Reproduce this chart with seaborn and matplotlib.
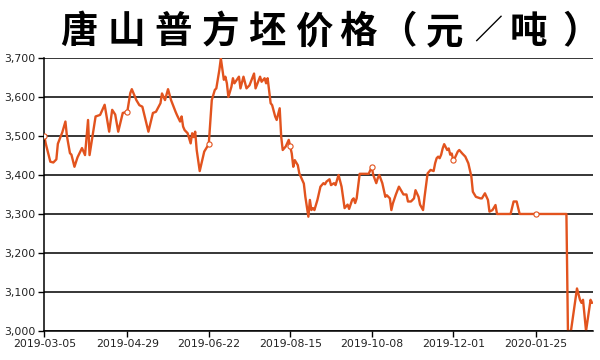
import numpy as np
import pandas as pd
import matplotlib
matplotlib.use("Agg")
import matplotlib.pyplot as plt
import matplotlib.dates as mdates
from matplotlib.ticker import FuncFormatter
import seaborn as sns

# ── Data ──────────────────────────────────────────────────────
start = pd.Timestamp("2019-03-05")
days = [0, 1, 4, 6, 8, 9, 12, 14, 15, 17, 18, 20, 22, 25, 27, 29, 30, 32, 34, 37,
        40, 43, 45, 47, 49, 52, 55, 57, 58, 61, 63, 65, 69, 72, 74, 77, 78, 80, 82, 84,
        87, 88, 90, 91, 92, 93, 95, 97, 98, 99, 100, 101, 103, 106, 109, 110, 111, 113, 114, 116,
        117, 119, 120, 121, 122, 124, 125, 126, 129, 130, 132, 134, 136, 139, 140, 143, 144, 146, 147, 148,
        150, 151, 153, 154, 156, 157, 158, 160, 162, 163, 164, 165, 166, 168, 169, 172, 173, 175, 176, 177,
        178, 179, 181, 183, 185, 186, 187, 189, 190, 192, 193, 195, 197, 199, 201, 202, 204, 205, 206, 207,
        209, 212, 215, 217, 218, 220, 221, 222, 224, 226, 227, 229, 230, 231, 233, 235, 237, 238, 240, 241,
        243, 245, 246, 248, 249, 251, 252, 254, 256, 258, 259, 260, 261, 262, 263, 264, 265, 267, 268, 269,
        270, 271, 272, 274, 275, 277, 279, 281, 283, 284, 286, 289, 290, 292, 294, 295, 297, 299, 300, 309,
        311, 313, 315, 326, 346, 347, 349, 353, 355, 356, 357, 359, 362, 363]
prices = [3500, 3480, 3434, 3432, 3440, 3480, 3510, 3537, 3500, 3456, 3452, 3421, 3445, 3469, 3451, 3541, 3451, 3500, 3550, 3554,
          3580, 3511, 3567, 3555, 3511, 3559, 3562, 3610, 3620, 3592, 3579, 3575, 3511, 3559, 3562, 3584, 3609, 3592, 3620, 3592,
          3562, 3553, 3537, 3550, 3524, 3515, 3507, 3481, 3507, 3497, 3511, 3464, 3410, 3460, 3479, 3537, 3592, 3618, 3622, 3669,
          3699, 3644, 3652, 3635, 3600, 3626, 3648, 3635, 3652, 3622, 3652, 3622, 3630, 3660, 3622, 3652, 3639, 3648, 3635, 3648,
          3584, 3579, 3550, 3541, 3571, 3498, 3464, 3473, 3490, 3473, 3455, 3421, 3438, 3425, 3404, 3378, 3344, 3293, 3336, 3310,
          3315, 3310, 3336, 3370, 3379, 3376, 3383, 3389, 3374, 3379, 3374, 3400, 3370, 3315, 3324, 3313, 3336, 3340, 3328, 3340,
          3403, 3403, 3403, 3421, 3400, 3379, 3392, 3400, 3379, 3344, 3348, 3340, 3310, 3327, 3350, 3370, 3357, 3350, 3350, 3332,
          3332, 3340, 3361, 3344, 3324, 3310, 3344, 3404, 3413, 3410, 3430, 3443, 3447, 3443, 3452, 3468, 3479, 3464, 3468, 3452,
          3455, 3438, 3443, 3460, 3464, 3455, 3447, 3430, 3396, 3357, 3344, 3340, 3340, 3353, 3336, 3306, 3310, 3323, 3300, 3300,
          3332, 3332, 3300, 3300, 3300, 3000, 3000, 3109, 3080, 3072, 3080, 3000, 3080, 3072]
tick_dates = ["2019-03-05", "2019-04-29", "2019-06-22", "2019-08-15",
              "2019-10-08", "2019-12-01", "2020-01-25"]
title = "唐山普方坯价格（元／吨）"

df = pd.DataFrame({"date": start + pd.to_timedelta(days, unit="D"), "price": prices})
ticks = pd.to_datetime(tick_dates)
marks = df[df["date"].isin(ticks)]

# ── Style ─────────────────────────────────────────────────────
sns.set_style("white")
plt.rcParams["font.family"] = ["Noto Sans CJK SC", "DejaVu Sans"]
line_color = "#E2531E"

fig = plt.figure(figsize=(6, 3.6), dpi=100)
ax = fig.add_axes([0.0738, 0.0806, 0.9145, 0.7584])

sns.lineplot(data=df, x="date", y="price", ax=ax, color=line_color, linewidth=1.7)
sns.scatterplot(data=marks, x="date", y="price", ax=ax, s=14, marker="o",
                facecolor="white", edgecolor=line_color, linewidth=0.8, zorder=5)

ax.set_ylim(3000, 3700)
ax.set_xlim(start, start + pd.Timedelta(days=363.6))
ax.set_yticks(np.arange(3000, 3701, 100))
ax.yaxis.set_major_formatter(FuncFormatter(lambda v, _: f"{v:,.0f}"))
ax.set_xticks(ticks)
ax.xaxis.set_major_formatter(mdates.DateFormatter("%Y-%m-%d"))

ax.grid(axis="y", color="black", linewidth=1.1)
ax.grid(axis="x", visible=False)
ax.set_axisbelow(True)
for side in ["top", "right"]:
    ax.spines[side].set_visible(False)
for side in ["left", "bottom"]:
    ax.spines[side].set_color("black")
    ax.spines[side].set_linewidth(1.1)
ax.tick_params(axis="both", which="major", length=4, width=1, color="black",
               labelsize=7.8, labelcolor="#222222", pad=2, left=True, bottom=True)
ax.set_xlabel("")
ax.set_ylabel("")
for lbl in ax.get_xticklabels() + ax.get_yticklabels():
    lbl.set_family("DejaVu Sans")

# title drawn glyph by glyph to get the letter spacing of the original (pixel centres)
title_x = [79, 126, 173, 220, 267, 314, 358, 398, 445, 488, 528, 581]
for ch, px in zip(title, title_x):
    fs = 20 if ch == "／" else 27
    fig.text(px / 600, 0.912, ch, ha="center", va="center",
             fontsize=fs, fontweight="heavy", color="black")

fig.savefig("out.png", dpi=100)
